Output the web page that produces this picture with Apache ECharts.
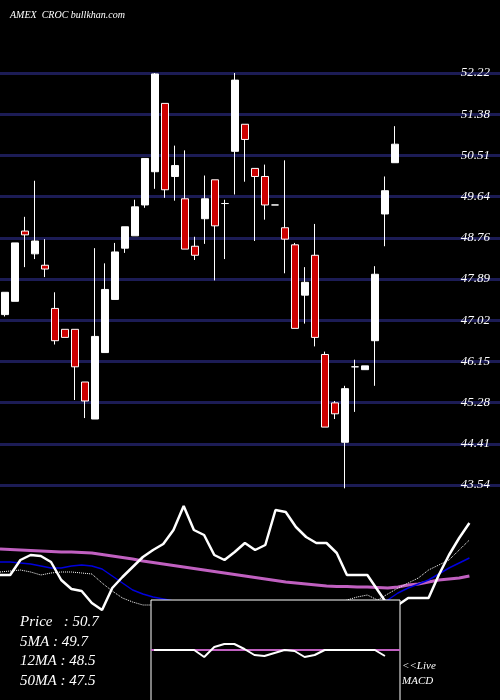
<!DOCTYPE html>
<html><head><meta charset="utf-8">
<script src="https://cdn.jsdelivr.net/npm/echarts@6/dist/echarts.min.js"></script>
<style>html,body{margin:0;padding:0;background:#000}#c{width:500px;height:700px}</style>
</head><body><div id="c"></div>
<script>
const days = Array.from({length:50},(_,i)=>String(i+1));
const opens  = [47.13,47.41,48.89,48.41,48.17,47.26,46.82,46.82,45.71,44.93,46.33,47.45,48.53,48.79,49.44,50.14,51.58,50.04,49.57,48.57,49.15,49.97,49.47,50.57,51.14,50.21,50.04,49.44,48.96,48.60,47.54,48.38,46.29,45.27,44.44,46.03,45.97,46.58,49.25,50.33];
const closes = [47.60,48.64,48.81,48.68,48.09,46.58,46.65,46.03,45.31,46.67,47.66,48.45,48.98,49.40,50.42,52.20,49.76,50.27,48.51,48.38,49.57,49.00,49.47,52.07,50.82,50.04,49.44,49.44,48.72,46.84,47.81,46.65,44.76,45.04,45.57,46.03,46.05,47.98,49.74,50.72];
const lows   = [47.09,47.41,48.13,48.30,47.92,46.50,46.65,45.33,44.95,44.93,46.33,47.45,48.43,48.79,49.38,49.78,49.59,49.53,48.51,48.28,48.62,47.85,48.30,49.66,49.93,48.68,49.13,49.44,48.00,46.84,46.94,46.46,44.76,44.93,43.47,45.08,45.97,45.63,48.57,50.33];
const highs  = [47.60,48.64,49.19,49.95,48.72,47.60,46.82,46.82,45.71,48.53,48.21,48.64,48.98,49.55,50.42,52.22,51.58,50.69,50.59,48.77,50.06,49.97,49.55,52.22,51.14,50.21,50.29,49.44,50.38,48.64,48.13,49.04,46.35,45.31,45.63,46.18,46.05,48.15,50.04,51.10];
const tickLabels = ["43.54","44.41","45.28","46.15","47.02","47.89","48.76","49.64","50.51","51.38","52.22"];
// lower panel oscillators (arbitrary units 0..210)
const oscWhite = [575,575,560,555,556,562,580,589,591,603,610,588,577,567,557,550,544,530,506,530,535,555,560,552,543,550,545,510,512,527,537,543,543,553,575,575,575,590,605,605,598,598,598,575,555,538,523].map(y=>700-y);
const oscPurple = [549,549.5,550,550.5,551,551.5,552,552,552.5,553,554.5,556,557.5,559,561,562.5,564,565.5,567,568.5,570,571.5,573,574.5,576,577.5,579,580.5,582,583,584,585,586,586.5,586.5,587,587,587.5,588,587,585,584,582,580,579,578,576].map(y=>700-y);
const oscBlue = [562,562,563,564,566,568,568,566,565,566,569,576,583,590,594,597,599,601,603,605,606,606,606,606,606,606,606,606,606,606,606,606,606,606,606,606,606,603,600,593,588,584,580,574,568,563,558].map(y=>700-y);
const oscDot = [572,571,570,572,575,573,572,572,573,574,583,591,598,602,605,605,605,605,605,605,605,605,605,605,605,605,605,605,605,605,605,605,605,605,600,597,595,600,594,588,583,578,570,565,560,550,540].map(y=>700-y);
const macdIdx = [15,16,17,18,19,20,21,22,23,24,25,26,27,28,29,30,31,32,33,34,35,36,37,38];
const macdVals = [0,0,0,0,0,-0.14,0.06,0.12,0.12,0.02,-0.1,-0.12,-0.06,0,-0.02,-0.14,-0.1,0,0,0,0,0,0,-0.12];
const legendLines = ["Price   : 50.7","5MA : 49.7","12MA : 48.5","50MA : 47.5"];

const candles = opens.map((o,i)=>[o,closes[i],lows[i],highs[i]]);
const chart = echarts.init(document.getElementById('c'));
const font = {fontFamily:'Liberation Serif',fontStyle:'italic',color:'#fff'};
chart.setOption({
  backgroundColor:'#000',
  animation:false,
  title:{text:'AMEX  CROC bullkhan.com',left:5,top:5,textStyle:Object.assign({fontSize:10,fontWeight:'normal'},font)},
  grid:[
    {left:-2,right:0,top:73,height:412},
    {left:0,right:0,top:490,height:210},
    {left:151,top:600,width:249,height:100}
  ],
  xAxis:[
    {type:'category',data:days,gridIndex:0,show:false},
    {type:'category',data:days,gridIndex:1,show:false,boundaryGap:false},
    {type:'value',gridIndex:2,min:14.7,max:39.5,show:false}
  ],
  yAxis:[
    {type:'value',gridIndex:0,min:43.54,max:52.22,interval:0.868,position:'right',
     axisLine:{show:false},axisTick:{show:false},
     splitLine:{lineStyle:{color:'#1c1c55',width:3}},
     axisLabel:{inside:true,margin:10,verticalAlignment:'bottom',padding:[0,0,4,0],fontSize:13,
       formatter:v=>{let b=tickLabels[0],d=1e9;for(const t of tickLabels){const e=Math.abs(+t-v);if(e<d){d=e;b=t;}}return b;},
       ...font}},
    {type:'value',gridIndex:1,min:0,max:210,show:false},
    {type:'value',gridIndex:2,min:-1,max:1,show:false}
  ],
  graphic:[
    {type:'rect',shape:{x:151,y:600,width:249,height:101},style:{fill:'#000',stroke:'#fff',lineWidth:1},z:50},
    ...legendLines.map((t,i)=>({type:'text',left:20,top:615+i*19.5,z:60,style:{text:t,fill:'#fff',font:'italic 15px "Liberation Serif"'}})),
    {type:'text',left:402,top:659,z:60,style:{text:'<<Live\nMACD',fill:'#fff',lineHeight:15,font:'italic 11px "Liberation Serif"'}}
  ],
  series:[
    {type:'candlestick',xAxisIndex:0,yAxisIndex:0,data:candles,barWidth:7,
     itemStyle:{color:'#fff',color0:'#cc0000',borderColor:'#fff',borderColor0:'#fff',borderWidth:1}},
    {type:'line',xAxisIndex:1,yAxisIndex:1,data:oscPurple,symbol:'none',lineStyle:{color:'#c060c0',width:3}},
    {type:'line',xAxisIndex:1,yAxisIndex:1,data:oscBlue,symbol:'none',lineStyle:{color:'#0000dd',width:1.5}},
    {type:'line',xAxisIndex:1,yAxisIndex:1,data:oscDot,symbol:'none',lineStyle:{color:'#fff',width:1,type:'dotted'}},
    {type:'line',xAxisIndex:1,yAxisIndex:1,data:oscWhite,symbol:'none',lineStyle:{color:'#fff',width:2.5}},
    {type:'line',xAxisIndex:2,yAxisIndex:2,data:[[14.7,0],[39.5,0]],symbol:'none',z:70,lineStyle:{color:'#c060c0',width:2}},
    {type:'line',xAxisIndex:2,yAxisIndex:2,data:macdIdx.map((x,i)=>[x,macdVals[i]]),symbol:'none',z:71,lineStyle:{color:'#fff',width:2}}
  ]
});
</script></body></html>
